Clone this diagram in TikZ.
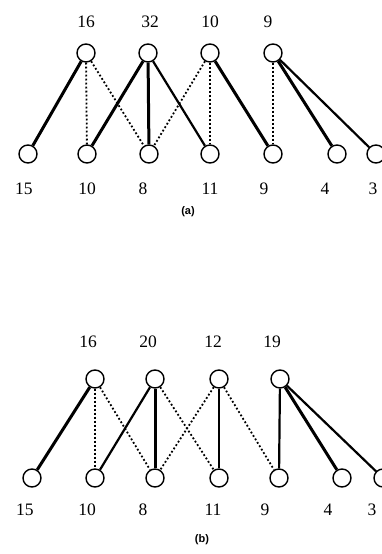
\documentclass[tikz,border=0pt]{standalone}
\usepackage{fontspec}
\setmainfont{Liberation Serif}
\setsansfont{Liberation Sans}
\usepackage{tikz}
\usetikzlibrary{positioning}

\begin{document}
\begin{tikzpicture}[
  x=1pt, y=-1pt,
  vtx/.style={circle, draw, line width=1.4pt, minimum size=18pt, inner sep=0pt},
  num/.style={font=\fontsize{17.5}{17.5}\selectfont, inner sep=0pt},
  subcap/.style={font=\sffamily\bfseries\fontsize{11}{11}\selectfont, inner sep=0pt},
  heavy/.style={line width=3pt},
  plain/.style={line width=2.2pt},
  dots/.style={line width=1.8pt, dash pattern=on 1.8pt off 2.2pt},
]
\useasboundingbox (0,0) rectangle (381,554);

% (a) upper row
\node[vtx] (at1) at (86,53) {};
\node[vtx] (at2) at (148,53) {};
\node[vtx] (at3) at (210,53) {};
\node[vtx] (at4) at (273,53) {};
\node[num] (lat1) at (86,22) {16};
\node[num] (lat2) at (150,22) {32};
\node[num] (lat3) at (210,22) {10};
\node[num] (lat4) at (268,22) {9};
% (a) lower row
\node[vtx] (ab1) at (28,154) {};
\node[vtx] (ab2) at (87,154) {};
\node[vtx] (ab3) at (149,154) {};
\node[vtx] (ab4) at (210,154) {};
\node[vtx] (ab5) at (273,154) {};
\node[vtx] (ab6) at (337,154) {};
\node[vtx] (ab7) at (376,154) {};
\node[num] (lab1) at (24,189) {15};
\node[num] (lab2) at (87,189) {10};
\node[num] (lab3) at (143,189) {8};
\node[num] (lab4) at (210,189) {11};
\node[num] (lab5) at (264,189) {9};
\node[num] (lab6) at (325,189) {4};
\node[num] (lab7) at (373,189) {3};
\node[subcap] (capa) at (188,212) {(a)};

\draw[heavy] (at1) -- (ab1);
\draw[dots] (at1) -- (ab2);
\draw[dots] (at1) -- (ab3);
\draw[heavy] (at2) -- (ab2);
\draw[heavy] (at2) -- (ab3);
\draw[plain] (at2) -- (ab4);
\draw[dots] (at3) -- (ab3);
\draw[dots] (at3) -- (ab4);
\draw[heavy] (at3) -- (ab5);
\draw[dots] (at4) -- (ab5);
\draw[heavy] (at4) -- (ab6);
\draw[plain] (at4) -- (ab7);

% (b) upper row
\node[vtx] (bt1) at (95,379) {};
\node[vtx] (bt2) at (155,379) {};
\node[vtx] (bt3) at (219,379) {};
\node[vtx] (bt4) at (280,379) {};
\node[num] (lbt1) at (88,342) {16};
\node[num] (lbt2) at (148,342) {20};
\node[num] (lbt3) at (213,342) {12};
\node[num] (lbt4) at (272,342) {19};
% (b) lower row
\node[vtx] (bb1) at (32,478) {};
\node[vtx] (bb2) at (95,478) {};
\node[vtx] (bb3) at (155,478) {};
\node[vtx] (bb4) at (219,478) {};
\node[vtx] (bb5) at (279,478) {};
\node[vtx] (bb6) at (342,478) {};
\node[vtx] (bb7) at (383,478) {};
\node[num] (lbb1) at (25,510) {15};
\node[num] (lbb2) at (87,510) {10};
\node[num] (lbb3) at (143,510) {8};
\node[num] (lbb4) at (213,510) {11};
\node[num] (lbb5) at (265,510) {9};
\node[num] (lbb6) at (328,510) {4};
\node[num] (lbb7) at (372,510) {3};
\node[subcap] (capb) at (202,540) {(b)};

\draw[heavy] (bt1) -- (bb1);
\draw[dots] (bt1) -- (bb2);
\draw[dots] (bt1) -- (bb3);
\draw[plain] (bt2) -- (bb2);
\draw[heavy] (bt2) -- (bb3);
\draw[dots] (bt2) -- (bb4);
\draw[dots] (bt3) -- (bb3);
\draw[plain] (bt3) -- (bb4);
\draw[dots] (bt3) -- (bb5);
\draw[plain] (bt4) -- (bb5);
\draw[heavy] (bt4) -- (bb6);
\draw[plain] (bt4) -- (bb7);
\end{tikzpicture}
\end{document}
